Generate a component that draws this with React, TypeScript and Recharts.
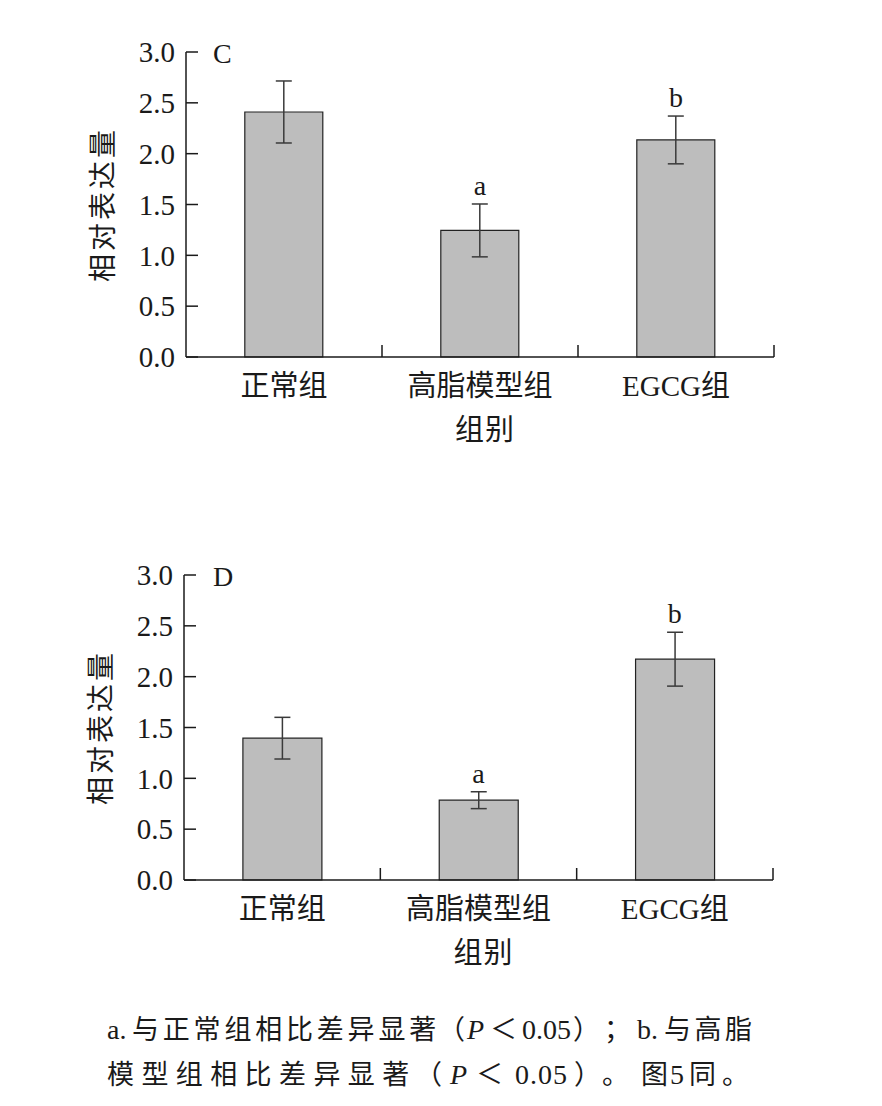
import { BarChart, Bar, XAxis, YAxis, ErrorBar, ReferenceDot } from "recharts";

const categories = ["正常组", "高脂模型组", "EGCG组"];
const meanC = [2.41, 1.245, 2.135];
const errC = [0.305, 0.26, 0.235];
const sigC = ["", "a", "b"];
const meanD = [1.395, 0.785, 2.172];
const errD = [0.205, 0.083, 0.265];
const sigD = ["", "a", "b"];
const yTicks = [0, 0.5, 1, 1.5, 2, 2.5, 3];

const FONT = '"Liberation Serif", "Noto Sans CJK SC", serif';
const INK = "#1a1a1a";
const CHART_W = 882;
const CHART_H = 500;
const PLOT_TOP = 52;
const PLOT_H = 305;
const X_AXIS_H = 90;
const TICK_MARGIN = 18;

// caption pieces: [text, left x, latin?, italic?, letterSpacing]
type Piece = [string, number, boolean, boolean, number];
const captionLine1: Piece[] = [
  ["a.", 107, true, false, 0],
  ["与正常组相比差异显著", 132, false, false, 3.8],
  ["（", 438, false, false, 0],
  ["P", 467, true, true, 0],
  ["＜", 490, false, false, 0],
  ["0.05", 522, true, false, 0],
  ["）", 573, false, false, 0],
  ["；", 604, false, false, 0],
  ["b.", 637, true, false, 0],
  ["与高脂", 664, false, false, 3.5],
];
const captionLine2: Piece[] = [
  ["模型组相比差异显著", 107, false, false, 7.4],
  ["（", 415, false, false, 0],
  ["P", 450, true, true, 0],
  ["＜", 476, false, false, 0],
  ["0.05", 515, true, false, 1],
  ["）", 574, false, false, 0],
  ["。", 602, false, false, 0],
  ["图", 641, false, false, 0],
  ["5", 670, true, false, 0],
  ["同", 689, false, false, 0],
  ["。", 722, false, false, 0],
];

interface PanelProps {
  letter: string;
  means: number[];
  errs: number[];
  sig: string[];
  top: number;
  axisLeft: number;
  axisRight: number;
}

function Panel({ letter, means, errs, sig, top, axisLeft, axisRight }: PanelProps) {
  const rows = categories.map((name, i) => ({ name, mean: means[i], err: errs[i] }));
  const halfBand = (axisRight - axisLeft) / categories.length / 2;
  const yAxisW = 166;

  // category labels plus the small inward boundary ticks at the end of each band
  const CategoryTick = (props: any) => {
    const { x, y, payload } = props;
    const axisY = y - TICK_MARGIN;
    const edge = x + halfBand;
    return (
      <g>
        <line x1={edge} x2={edge} y1={axisY} y2={axisY - 12} stroke={INK} strokeWidth={1.5} />
        <text x={x} y={y} dy="0.71em" textAnchor="middle" fontSize={29} fill={INK} fontFamily={FONT}>
          {payload.value}
        </text>
      </g>
    );
  };

  return (
    <div style={{ position: "absolute", left: 0, top }}>
      <BarChart
        width={CHART_W}
        height={CHART_H}
        data={rows}
        barCategoryGap="30%"
        margin={{ top: PLOT_TOP, right: CHART_W - axisRight, left: axisLeft - yAxisW, bottom: CHART_H - PLOT_TOP - PLOT_H - X_AXIS_H }}
      >
        <XAxis
          dataKey="name"
          height={X_AXIS_H}
          tickLine={false}
          tickSize={0}
          tickMargin={TICK_MARGIN}
          axisLine={{ stroke: INK, strokeWidth: 1.5 }}
          tick={<CategoryTick />}
          interval={0}
          label={{ value: "组别", position: "insideBottom", offset: 7, dx: 5, fontSize: 29, fill: INK, fontFamily: FONT, letterSpacing: 1 }}
        />
        <YAxis
          width={yAxisW}
          domain={[0, 3]}
          ticks={yTicks}
          interval={0}
          tickFormatter={(v: number) => v.toFixed(1)}
          tickSize={-12}
          tickMargin={23}
          axisLine={{ stroke: INK, strokeWidth: 1.5 }}
          tickLine={{ stroke: INK, strokeWidth: 1.5 }}
          tick={{ fontSize: 29, fill: INK, fontFamily: FONT }}
          label={{ value: "相对表达量", angle: -90, position: "center", fontSize: 28, fill: INK, fontFamily: FONT, letterSpacing: 3 }}
        />
        <Bar dataKey="mean" fill="#bdbdbd" stroke="#222" strokeWidth={1.2} isAnimationActive={false}>
          <ErrorBar dataKey="err" width={8} stroke="#3a3a3a" strokeWidth={1.5} direction="y" isAnimationActive={false} />
        </Bar>
        {rows.map((r, i) =>
          sig[i] ? (
            <ReferenceDot
              key={r.name}
              x={r.name}
              y={r.mean + r.err}
              r={1}
              fill="none"
              stroke="none"
              label={{ value: sig[i], position: "top", offset: 8, fontSize: 28, fill: INK, fontFamily: FONT }}
            />
          ) : null
        )}
      </BarChart>
      <div style={{ position: "absolute", left: 213, top: PLOT_TOP - 12.5, fontFamily: FONT, fontSize: 28, lineHeight: "28px", color: INK }}>
        {letter}
      </div>
    </div>
  );
}

function CaptionLine({ pieces, top }: { pieces: Piece[]; top: number }) {
  return (
    <div style={{ position: "absolute", left: 0, top, height: 36 }}>
      {pieces.map(([text, x, latin, italic, ls], i) => (
        <span
          key={i}
          style={{
            position: "absolute",
            left: x,
            top: 0,
            fontSize: latin ? 28 : 27,
            lineHeight: "36px",
            fontStyle: italic ? "italic" : "normal",
            letterSpacing: ls,
            whiteSpace: "nowrap",
          }}
        >
          {text}
        </span>
      ))}
    </div>
  );
}

export default function App() {
  return (
    <div style={{ position: "absolute", left: 0, top: 0, width: 882, height: 1106, background: "#fff", fontFamily: FONT, color: INK }}>
      <Panel letter="C" means={meanC} errs={errC} sig={sigC} top={0} axisLeft={186} axisRight={774} />
      <Panel letter="D" means={meanD} errs={errD} sig={sigD} top={523} axisLeft={184} axisRight={773} />
      <CaptionLine pieces={captionLine1} top={1012} />
      <CaptionLine pieces={captionLine2} top={1057} />
    </div>
  );
}
